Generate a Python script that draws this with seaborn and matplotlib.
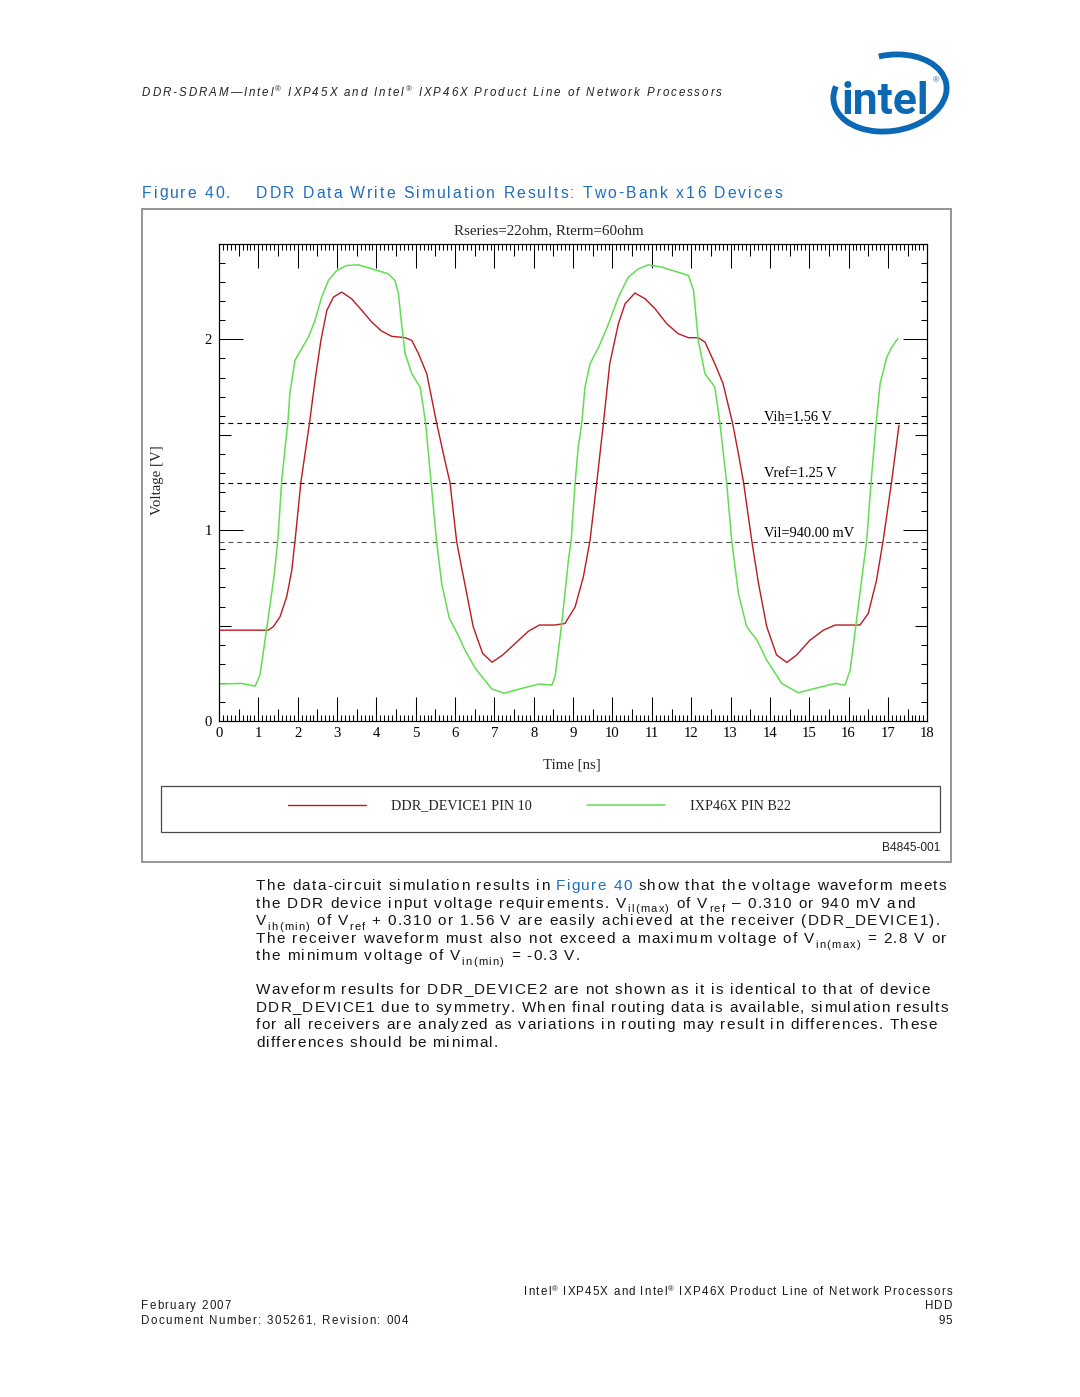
import numpy as np
import pandas as pd
import matplotlib
matplotlib.use("Agg")
import matplotlib.pyplot as plt
import seaborn as sns
from matplotlib.patches import Rectangle, Arc
from matplotlib.font_manager import FontProperties, findfont, get_font
from matplotlib.ticker import MultipleLocator, FixedLocator

# ---------------- data ----------------
time_red = [0.00, 1.25, 1.38, 1.55, 1.72, 1.85, 1.96, 2.08, 2.30, 2.44, 2.59, 2.74, 2.91, 3.12,
            3.37, 3.63, 3.88, 4.13, 4.39, 4.73, 4.90, 5.07, 5.28, 5.53, 5.74, 5.87, 6.04, 6.17,
            6.46, 6.70, 6.94, 7.21, 7.53, 7.86, 8.14, 8.54, 8.79, 9.05, 9.26, 9.43, 9.60, 9.77,
            9.93, 10.15, 10.32, 10.57, 10.83, 11.08, 11.38, 11.67, 11.93, 12.18, 12.35, 12.60,
            12.81, 13.05, 13.20, 13.33, 13.54, 13.71, 13.92, 14.17, 14.43, 14.68, 15.02, 15.36,
            15.66, 16.29, 16.50, 16.71, 16.88, 17.09, 17.28]
volt_red = [0.476, 0.476, 0.494, 0.546, 0.651, 0.790, 1.000, 1.250, 1.562, 1.785, 1.995, 2.152,
            2.222, 2.248, 2.213, 2.152, 2.091, 2.044, 2.016, 2.009, 1.995, 1.925, 1.820, 1.562,
            1.366, 1.250, 0.940, 0.800, 0.494, 0.354, 0.308, 0.346, 0.407, 0.470, 0.503, 0.503,
            0.511, 0.598, 0.756, 0.948, 1.250, 1.562, 1.873, 2.082, 2.187, 2.243, 2.213, 2.161,
            2.082, 2.030, 2.009, 2.009, 1.986, 1.873, 1.768, 1.562, 1.401, 1.250, 0.944, 0.721,
            0.494, 0.346, 0.307, 0.346, 0.424, 0.476, 0.503, 0.503, 0.564, 0.738, 0.948, 1.250,
            1.550]
time_green = [0.00, 0.58, 0.92, 1.04, 1.21, 1.40, 1.50, 1.59, 1.68, 1.75, 1.80, 1.93, 2.10, 2.27,
              2.44, 2.61, 2.78, 2.99, 3.24, 3.54, 3.88, 4.30, 4.47, 4.56, 4.64, 4.73, 4.90, 5.11,
              5.19, 5.25, 5.39, 5.53, 5.66, 5.85, 6.10, 6.25, 6.50, 6.93, 7.25, 7.70, 8.14, 8.46,
              8.54, 8.71, 8.88, 8.95, 9.05, 9.13, 9.22, 9.30, 9.43, 9.65, 9.90, 10.15, 10.40,
              10.66, 10.91, 11.25, 11.67, 11.93, 12.06, 12.18, 12.35, 12.60, 12.73, 12.90, 13.03,
              13.20, 13.41, 13.67, 13.92, 14.30, 14.72, 15.15, 15.66, 15.91, 16.04, 16.16, 16.33,
              16.46, 16.57, 16.70, 16.80, 16.97, 17.10, 17.25]
volt_green = [0.194, 0.197, 0.183, 0.240, 0.480, 0.760, 0.960, 1.250, 1.436, 1.562, 1.716, 1.890,
              1.951, 2.012, 2.099, 2.222, 2.309, 2.361, 2.387, 2.391, 2.370, 2.344, 2.309, 2.239,
              2.082, 1.925, 1.820, 1.750, 1.646, 1.562, 1.250, 0.940, 0.720, 0.540, 0.440, 0.372,
              0.280, 0.168, 0.146, 0.171, 0.194, 0.188, 0.232, 0.511, 0.843, 0.948, 1.250, 1.436,
              1.562, 1.750, 1.873, 1.960, 2.082, 2.222, 2.326, 2.370, 2.391, 2.379, 2.352, 2.335,
              2.257, 1.995, 1.820, 1.750, 1.562, 1.250, 0.944, 0.668, 0.494, 0.424, 0.319, 0.197,
              0.148, 0.171, 0.197, 0.188, 0.267, 0.459, 0.738, 0.944, 1.250, 1.562, 1.768, 1.907,
              1.960, 2.004]
series_names = ["DDR_DEVICE1 PIN 10", "IXP46X PIN B22"]
threshold_values = [1.56, 1.25, 0.94]
threshold_labels = ["Vih=1.56 V", "Vref=1.25 V", "Vil=940.00 mV"]
x_tick_values = list(range(0, 19))
y_tick_values = [0, 1, 2]
chart_title = "Rseries=22ohm, Rterm=60ohm"
x_label = "Time [ns]"
y_label = "Voltage [V]"

# ---------------- style ----------------
W, H, DPI = 1080, 1397, 100
sns.set_style("white")
plt.rcParams["font.family"] = ["Liberation Sans", "DejaVu Sans"]

RED = "#b81c22"
GREEN = "#62de52"
BLUE = "#1f6dbf"
INTEL = "#0a68b4"
TXT = "#151515"
SERIF = "Liberation Serif"

fig = plt.figure(figsize=(W / DPI, H / DPI), dpi=DPI)
fig.patch.set_facecolor("white")
bg = fig.add_axes([0, 0, 1, 1], zorder=0)
bg.set_xlim(0, W)
bg.set_ylim(H, 0)
bg.axis("off")

# ---------- tracked text helper ----------
_adv = {}


def advance(ch, fp):
    key = (ch, id(fp))
    if key not in _adv:
        font = get_font(findfont(fp))
        font.set_size(fp.get_size_in_points(), DPI)
        g = font.load_char(ord(ch))
        _adv[key] = g.linearHoriAdvance / 65536.0
    return _adv[key]


def tracked(runs, y, left=None, right=None, track=0.0):
    chars = []
    for text, fp, dy, col in runs:
        for ch in text:
            chars.append((ch, fp, dy, col))
    advs = [advance(c[0], c[1]) for c in chars]
    natural = sum(advs)
    n = len(chars)
    if left is not None and right is not None:
        track = (right - left - natural) / max(n - 1, 1)
    total = natural + track * (n - 1)
    x = left if left is not None else right - total
    for (ch, fp, dy, col), a in zip(chars, advs):
        if ch != " ":
            bg.text(x, y + dy, ch, fontproperties=fp, color=col, ha="left", va="baseline")
        x += a + track
    return track


# ---------------- header ----------------
fp_head = FontProperties(family="Liberation Sans", style="italic", size=8.3)
fp_head_sup = FontProperties(family="Liberation Sans", style="italic", size=5.6)
HC = "#222222"
tracked([("DDR-SDRAM\u2014Intel", fp_head, 0, HC), ("\u00ae", fp_head_sup, -4.5, HC),
         (" IXP45X and Intel", fp_head, 0, HC), ("\u00ae", fp_head_sup, -4.5, HC),
         (" IXP46X Product Line of Network Processors", fp_head, 0, HC)],
        96, left=142, right=722)

# intel logo
bg.add_patch(Arc((890, 93), 114, 76, angle=-9, theta1=262, theta2=196, lw=4.2, color=INTEL))
bg.text(842, 113.5, "intel", fontfamily="Roboto", fontweight="bold", fontsize=32,
        color=INTEL, ha="left", va="baseline")
bg.text(933, 82, "\u00ae", fontsize=6, color=INTEL, ha="left", va="baseline")

# ---------------- caption ----------------
fp_cap = FontProperties(family="Liberation Sans", size=11.3)
tracked([("Figure 40.", fp_cap, 0, BLUE)], 197.5, left=142, right=230)
tracked([("DDR Data Write Simulation Results: Two-Bank x16 Devices", fp_cap, 0, BLUE)],
        197.5, left=256, right=782)

# figure box
bg.add_patch(Rectangle((142, 209), 951 - 142, 862 - 209, fill=False, ec="#8e8e8e", lw=1.3))

# ---------------- chart ----------------
L, R, T, B = 219, 927.3, 244, 721
ax = fig.add_axes([L / W, 1 - B / H, (R - L) / W, (B - T) / H], zorder=2)
ax.patch.set_alpha(0)

df_red = pd.DataFrame({"t": time_red, "v": volt_red})
df_green = pd.DataFrame({"t": time_green, "v": volt_green})
sns.lineplot(data=df_red, x="t", y="v", color=RED, lw=1.0, ax=ax, sort=False, legend=False)
sns.lineplot(data=df_green, x="t", y="v", color=GREEN, lw=1.1, ax=ax, sort=False, legend=False)
line_handles = list(ax.lines[:2])

label_offsets = [2.0, 3.8, 3.2]
for val, lab, off in zip(threshold_values, threshold_labels, label_offsets):
    ax.axhline(val, color="black" if val > 1 else "#555555", lw=0.8, ls=(0, (4.5, 3.5)), zorder=1)
    ax.annotate(lab, xy=(13.85, val), xytext=(0, off), textcoords="offset points",
                ha="left", va="baseline", fontfamily=SERIF, fontsize=10.4, color="black")

ax.set_xlim(0, 18)
ax.set_ylim(0, 2.5)
for sp in ax.spines.values():
    sp.set_visible(True)
    sp.set_color("black")
    sp.set_linewidth(0.8)

ax.xaxis.set_major_locator(FixedLocator(x_tick_values))
ax.set_xticklabels([str(v) for v in x_tick_values])
ax.yaxis.set_major_locator(FixedLocator(y_tick_values))
ax.set_yticklabels([str(v) for v in y_tick_values])
ax.xaxis.set_minor_locator(MultipleLocator(0.1))
ax.yaxis.set_minor_locator(MultipleLocator(0.1))
ax.tick_params(which="both", direction="in", top=True, right=True, bottom=True, left=True,
               color="black", width=0.75)
ax.tick_params(which="major", length=17.5, labelfontfamily=SERIF, labelsize=10.6,
               labelcolor="black")
ax.tick_params(which="minor", length=4.0)
ax.tick_params(axis="x", which="major", pad=4.5)
ax.tick_params(axis="y", which="major", pad=5.0)

for loc in ["top", "bottom"]:
    s = ax.secondary_xaxis(loc)
    s.set_xticks(np.arange(0.5, 18, 1.0))
    s.tick_params(direction="in", length=8.6, width=0.75, color="black",
                  labelbottom=False, labeltop=False)
    s.spines[loc].set_linewidth(0.8)
for loc in ["left", "right"]:
    s = ax.secondary_yaxis(loc)
    s.set_yticks([0.5, 1.5])
    s.tick_params(direction="in", length=8.6, width=0.75, color="black",
                  labelleft=False, labelright=False)
    s.spines[loc].set_linewidth(0.8)

ax.set_xlabel(x_label, fontfamily=SERIF, fontsize=10.7)
ax.xaxis.set_label_coords((572 - L) / (R - L), (B - 765) / (B - T))
ax.xaxis.label.set_va("center")
ax.set_ylabel(y_label, fontfamily=SERIF, fontsize=10.7)
ax.yaxis.set_label_coords((157 - L) / (R - L), (B - 480) / (B - T))
ax.yaxis.label.set_va("center")
ax.text((549 - L) / (R - L), (B - 231) / (B - T), chart_title, transform=ax.transAxes,
        ha="center", va="center", fontfamily=SERIF, fontsize=10.8)

# legend
bg.add_patch(Rectangle((161, 786), 940 - 161, 832 - 786, fill=False, ec="#4a4a4a", lw=0.9))
fp_leg = FontProperties(family=SERIF, size=10.2)
fig.legend(line_handles, series_names, loc="center left",
           bbox_to_anchor=(288 / W, 1 - 806 / H), ncol=2, frameon=False, prop=fp_leg,
           handlelength=5.5, handletextpad=1.75, columnspacing=3.95, borderpad=0,
           borderaxespad=0)
bg.text(940, 851, "B4845-001", fontfamily="Liberation Sans", fontsize=8.6, color="#222222",
        ha="right", va="baseline")

# ---------------- body text ----------------
fp_b = FontProperties(family="Liberation Sans", size=11.0)
fp_s = FontProperties(family="Liberation Sans", size=8.0)
S = 4.5
body = [
    ([("The data-circuit simulation results in ", fp_b, 0, TXT), ("Figure 40", fp_b, 0, BLUE),
      (" show that the voltage waveform meets", fp_b, 0, TXT)], 890, 946),
    ([("the DDR device input voltage requirements. V", fp_b, 0, TXT), ("il(max)", fp_s, S, TXT),
      (" of V", fp_b, 0, TXT), ("ref", fp_s, S, TXT), (" \u2013 0.310 or 940 mV and", fp_b, 0, TXT)],
     907.5, 915),
    ([("V", fp_b, 0, TXT), ("ih(min)", fp_s, S, TXT), (" of V", fp_b, 0, TXT), ("ref", fp_s, S, TXT),
      (" + 0.310 or 1.56 V are easily achieved at the receiver (DDR_DEVICE1).", fp_b, 0, TXT)],
     925, 940),
    ([("The receiver waveform must also not exceed a maximum voltage of V", fp_b, 0, TXT),
      ("in(max)", fp_s, S, TXT), (" = 2.8 V or", fp_b, 0, TXT)], 943, 946),
    ([("the minimum voltage of V", fp_b, 0, TXT), ("in(min)", fp_s, S, TXT),
      (" = -0.3 V.", fp_b, 0, TXT)], 960.5, 580),
    ([("Waveform results for DDR_DEVICE2 are not shown as it is identical to that of device",
       fp_b, 0, TXT)], 994, 930),
    ([("DDR_DEVICE1 due to symmetry. When final routing data is available, simulation results",
       fp_b, 0, TXT)], 1012, 948),
    ([("for all receivers are analyzed as variations in routing may result in differences. These",
       fp_b, 0, TXT)], 1029, 937),
    ([("differences should be minimal.", fp_b, 0, TXT)], 1047, 498),
]
for runs, yb, xr in body:
    tracked(runs, yb, left=256, right=xr)

# ---------------- footer ----------------
fp_f = FontProperties(family="Liberation Sans", size=8.3)
fp_fs = FontProperties(family="Liberation Sans", size=5.6)
FC = "#1a1a1a"
tr = tracked([("Intel", fp_f, 0, FC), ("\u00ae", fp_fs, -4, FC), (" IXP45X and Intel", fp_f, 0, FC),
              ("\u00ae", fp_fs, -4, FC), (" IXP46X Product Line of Network Processors", fp_f, 0, FC)],
             1295, left=524, right=952)
tracked([("February 2007", fp_f, 0, FC)], 1309, left=141, right=231)
tracked([("HDD", fp_f, 0, FC)], 1309, right=952, track=tr)
tracked([("Document Number: 305261, Revision: 004", fp_f, 0, FC)], 1324, left=141, right=408)
tracked([("95", fp_f, 0, FC)], 1324, right=952, track=tr)

fig.savefig("out.png", dpi=DPI, facecolor="white")
